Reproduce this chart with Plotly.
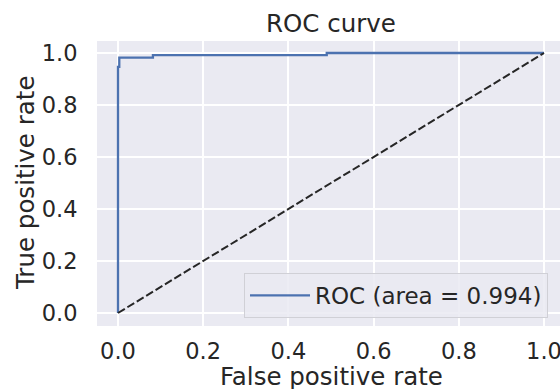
import plotly.graph_objects as go

# ROC curve data
fpr = [0.0, 0.0, 0.003, 0.003, 0.082, 0.082, 0.49, 0.49, 1.0]
tpr = [0.0, 0.947, 0.947, 0.982, 0.982, 0.992, 0.992, 1.0, 1.0]
roc_auc = 0.994

diag_x = [0.0, 1.0]
diag_y = [0.0, 1.0]

tick_vals = [0.0, 0.2, 0.4, 0.6, 0.8, 1.0]
tick_text = ["0.0", "0.2", "0.4", "0.6", "0.8", "1.0"]

W, H = 560, 389
L, R, T, B = 97, 0, 41, 63
FONT = "DejaVu Sans"
TXT = "#262626"

fig = go.Figure()
fig.add_trace(go.Scatter(
    x=fpr, y=tpr, mode="lines",
    name=f"ROC (area = {roc_auc:.3f})",
    line=dict(color="#4C72B0", width=2.3),
))
fig.add_trace(go.Scatter(
    x=diag_x, y=diag_y, mode="lines", showlegend=False,
    line=dict(color="#262626", width=2, dash="8px,3px"),
))

pw = W - L - R
ph = H - T - B

fig.update_layout(
    width=W, height=H,
    margin=dict(l=L, r=R, t=T, b=B, pad=0),
    paper_bgcolor="white",
    plot_bgcolor="#EAEAF2",
    font=dict(family=FONT, color=TXT, size=22),
    title=dict(text="ROC curve", font=dict(size=24.5, color=TXT, family=FONT),
               x=331 / W, xref="container", xanchor="center",
               y=1 - 23 / H, yref="container", yanchor="middle"),
    showlegend=True,
    legend=dict(
        x=(244 - L) / pw, y=(H - B - 273) / ph, xanchor="left", yanchor="top",
        xref="paper", yref="paper", itemwidth=60,
        bgcolor="rgba(234,234,242,0.85)", bordercolor="#d0d0d6", borderwidth=1,
        font=dict(size=23, color=TXT, family=FONT),
    ),
    xaxis=dict(
        range=[-21 / 426, 1 + 16 / 426], tickvals=tick_vals, ticktext=tick_text,
        showgrid=True, gridcolor="white", gridwidth=1.6, zeroline=False,
        showline=False, ticks="outside", ticklen=5, tickcolor="rgba(0,0,0,0)",
        tickfont=dict(size=22.5, color=TXT, family=FONT), automargin=False,
        ticklabeloverflow="allow",
    ),
    yaxis=dict(
        range=[-13 / 260, 1 + 12 / 260], tickvals=tick_vals, ticktext=tick_text,
        showgrid=True, gridcolor="white", gridwidth=1.6, zeroline=False,
        showline=False, ticks="outside", ticklen=14, tickcolor="rgba(0,0,0,0)",
        tickfont=dict(size=22.5, color=TXT, family=FONT), automargin=False,
        ticklabeloverflow="allow",
    ),
    annotations=[
        dict(text="False positive rate", xref="paper", yref="paper",
             x=(331 - L) / pw, y=-(376 - (H - B)) / ph, xanchor="center", yanchor="middle",
             showarrow=False, font=dict(size=24.5, color=TXT, family=FONT)),
        dict(text="True positive rate", xref="paper", yref="paper",
             x=-(L - 25) / pw, y=(H - B - 183) / ph, xanchor="center", yanchor="middle",
             textangle=-90, showarrow=False, font=dict(size=24.5, color=TXT, family=FONT)),
    ],
)

fig.write_html("out.html")
